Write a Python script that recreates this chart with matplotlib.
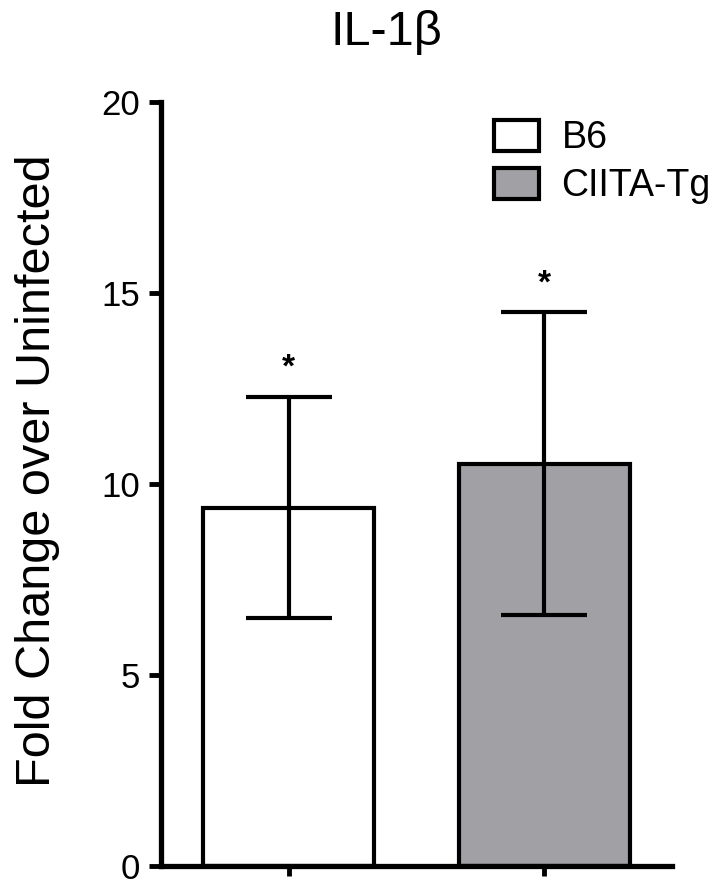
import matplotlib
matplotlib.use("Agg")
import matplotlib.pyplot as plt
from matplotlib.patches import Patch

groups = ["B6", "CIITA-Tg"]
means = [9.38, 10.53]
sems = [2.90, 3.96]
colors = ["#ffffff", "#a1a0a5"]
stars = ["*", "*"]
yticks = [0, 5, 10, 15, 20]

plt.rcParams['font.family'] = ['Liberation Sans', 'DejaVu Sans']

fig = plt.figure(figsize=(7.17, 8.81), dpi=100)
ax = fig.add_axes([161/717, 15/881, (672-161)/717, (866-102)/881])

x = list(range(len(groups)))
ax.bar(x, means, width=0.67, color=colors, edgecolor="black", linewidth=3.0, zorder=2)
ax.errorbar(x, means, yerr=sems, fmt="none", ecolor="black", elinewidth=3.0,
            capsize=31, capthick=3.0, zorder=3)
for xi, m, s, st in zip(x, means, sems, stars):
    ax.text(xi, m + s + 0.35, st, ha="center", va="bottom", fontsize=24, fontweight="bold")

ax.set_xlim(-0.5, 1.5)
ax.set_ylim(0, 20)
ax.set_yticks(yticks)
ax.set_yticklabels([str(t) for t in yticks], fontsize=25)
ax.set_xticks(x)
ax.set_xticklabels(["", ""])
ax.tick_params(axis="y", length=9, width=3.5, pad=6)
ax.tick_params(axis="x", length=7, width=3.5)
for side in ["top", "right"]:
    ax.spines[side].set_visible(False)
for side in ["left", "bottom"]:
    ax.spines[side].set_linewidth(3.8)
ax.spines["bottom"].set_bounds(-0.5, 1.5)

fig.text(15/717, 1-471/881, "Fold Change over Uninfected", fontsize=35,
         rotation=90, ha="left", va="center")
fig.text(386/717, 1-45/881, "IL-1β", fontsize=35, ha="center", va="baseline")

handles = [Patch(facecolor=c, edgecolor="black", linewidth=3.0, label=g) for c, g in zip(colors, groups)]
leg = ax.legend(handles=handles, loc="upper left", bbox_to_anchor=((494-161)/511, (866-120)/764),
                frameon=False, fontsize=27, handlelength=1.2, handleheight=0.9,
                handletextpad=0.6, labelspacing=0.3, borderaxespad=0, borderpad=0)

fig.savefig("out.png", dpi=100, facecolor="white")
